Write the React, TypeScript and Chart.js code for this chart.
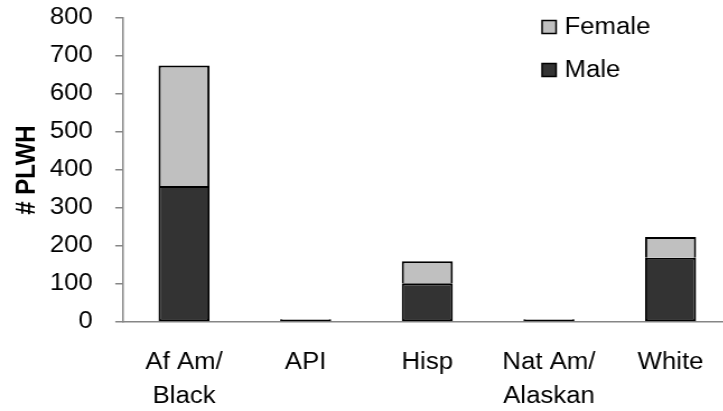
import React, { useEffect, useRef } from "react";
import { Chart, registerables } from "chart.js";

Chart.register(...registerables);

const categories: string[][] = [
  ["Af Am/", "Black"],
  ["API"],
  ["Hisp"],
  ["Nat Am/", "Alaskan"],
  ["White"],
];
const maleValues = [358, 6, 102, 6, 169];
const femaleValues = [317, 2, 58, 2, 55];
const yTicks = [0, 100, 200, 300, 400, 500, 600, 700, 800];

const STRETCH = 1.12;
const W = 653;
const H = 411;
const FONT = "'Liberation Sans', Arial, sans-serif";
const AXIS_GRAY = "#868686";

const legendPlugin = {
  id: "customLegend",
  afterDraw(chart: any) {
    const ctx = chart.ctx;
    const ds = chart.data.datasets;
    const items = [ds[1], ds[0]];
    ctx.save();
    ctx.font = `23px ${FONT}`;
    ctx.textBaseline = "middle";
    ctx.textAlign = "left";
    items.forEach((d: any, i: number) => {
      const cy = 27 + i * 43;
      const bx = 484;
      const bw = 12.5;
      const bh = 13;
      ctx.fillStyle = d.backgroundColor;
      ctx.fillRect(bx, cy - bh / 2, bw, bh);
      ctx.strokeStyle = "#000";
      ctx.lineWidth = 1.5;
      ctx.strokeRect(bx, cy - bh / 2, bw, bh);
      ctx.fillStyle = "#000";
      ctx.fillText(d.label, 504, cy + 1);
    });
    ctx.restore();
  },
};

export default function App() {
  const ref = useRef<HTMLCanvasElement | null>(null);
  useEffect(() => {
    if (!ref.current) return;
    const chart = new Chart(ref.current, {
      type: "bar",
      data: {
        labels: categories,
        datasets: [
          {
            label: "Male",
            data: maleValues,
            backgroundColor: "#333333",
            borderColor: "#000000",
            borderWidth: 2,
            borderSkipped: false,
            barPercentage: 0.42,
            categoryPercentage: 1,
          },
          {
            label: "Female",
            data: femaleValues,
            backgroundColor: "#C0C0C0",
            borderColor: "#000000",
            borderWidth: 2,
            borderSkipped: "start",
            barPercentage: 0.42,
            categoryPercentage: 1,
          },
        ],
      },
      options: {
        animation: false,
        responsive: false,
        devicePixelRatio: 1,
        layout: { padding: { top: 18, left: 0, right: 0, bottom: 0 } },
        plugins: { legend: { display: false }, tooltip: { enabled: false } },
        scales: {
          x: {
            stacked: true,
            grid: { display: false, drawTicks: false },
            border: { display: true, color: AXIS_GRAY, width: 1.5 },
            ticks: {
              color: "#000",
              font: { family: FONT, size: 23, lineHeight: 1.48 },
              padding: 24,
              maxRotation: 0,
              autoSkip: false,
            },
            afterFit(scale: any) {
              scale.height = 89;
            },
          },
          y: {
            stacked: true,
            min: 0,
            max: 800,
            afterBuildTicks(scale: any) {
              scale.ticks = yTicks.map((v) => ({ value: v }));
            },
            grid: {
              display: true,
              drawOnChartArea: false,
              drawTicks: true,
              tickLength: 7.1,
              color: AXIS_GRAY,
              lineWidth: 1.5,
            },
            border: { display: true, color: AXIS_GRAY, width: 1.5 },
            ticks: {
              color: "#000",
              font: { family: FONT, size: 23 },
              padding: 20,
            },
            title: {
              display: true,
              text: "# PLWH",
              color: "#000",
              font: { family: FONT, size: 24, weight: "bold" },
              padding: { top: 10, bottom: 0 },
            },
            afterFit(scale: any) {
              scale.width = 110;
              scale.paddingTop = 0;
              scale.paddingBottom = 0;
            },
          },
        },
      },
      plugins: [legendPlugin],
    });
    return () => chart.destroy();
  }, []);

  return (
    <div
      style={{
        position: "fixed",
        left: 0,
        top: 0,
        width: 723,
        height: 411,
        overflow: "hidden",
        background: "#fff",
      }}
    >
      <div
        style={{
          width: W,
          height: H,
          transform: `scaleX(${STRETCH})`,
          transformOrigin: "0 0",
        }}
      >
        <canvas ref={ref} width={W} height={H} style={{ display: "block" }} />
      </div>
    </div>
  );
}
